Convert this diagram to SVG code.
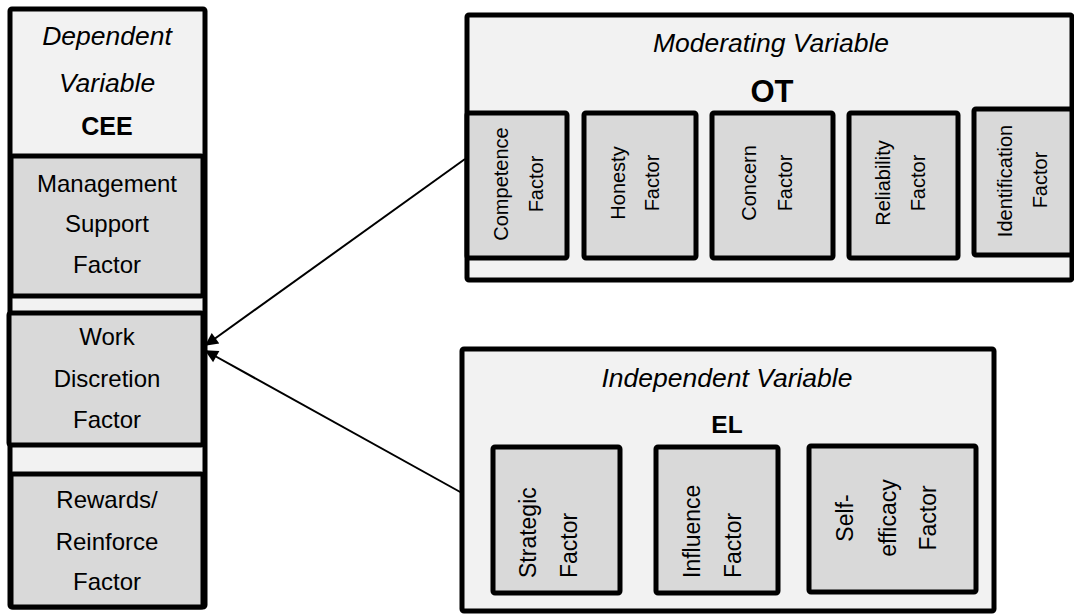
<svg xmlns="http://www.w3.org/2000/svg" width="1074" height="614" viewBox="0 0 1074 614">
  <defs>
    <style>
      .outer { fill: #f2f2f2; stroke: #000; stroke-width: 5; }
      .inner { fill: #d9d9d9; stroke: #000; stroke-width: 5; }
      text { font-family: "Liberation Sans", Arial, sans-serif; fill: #000; }
      .lbl { font-size: 24px; text-anchor: middle; }
      .ital { font-size: 26.5px; font-style: italic; text-anchor: middle; }
      .bold { font-weight: bold; text-anchor: middle; }
      .cee { font-size: 25px; }
      .ot { font-size: 31px; }
      .el { font-size: 24.5px; }
      .rot { font-size: 20px; text-anchor: middle; dominant-baseline: central; }
      .rotL { font-size: 23px; dominant-baseline: central; }
      .conn { stroke: #000; stroke-width: 2; fill: none; }
    </style>
    <marker id="arrow" viewBox="0 0 10 10" refX="9" refY="5" markerWidth="15" markerHeight="13" markerUnits="userSpaceOnUse" orient="auto">
      <path d="M0,0 L10,5 L0,10 z" fill="#000"/>
    </marker>
  </defs>

  <!-- Dependent variable column -->
  <g id="cee">
    <rect class="outer" x="10" y="9" width="195" height="598" rx="2"/>
    <text class="ital" x="107" y="45">Dependent</text>
    <text class="ital" x="107" y="92">Variable</text>
    <text class="bold cee" x="107" y="135">CEE</text>
  </g>
  <g id="management-support">
    <rect class="inner" x="11" y="156" width="192" height="140" rx="2"/>
    <text class="lbl" x="107" y="192">Management</text>
    <text class="lbl" x="107" y="232">Support</text>
    <text class="lbl" x="107" y="273">Factor</text>
  </g>
  <g id="work-discretion">
    <rect class="inner" x="9" y="313" width="194" height="132" rx="2"/>
    <text class="lbl" x="107" y="345">Work</text>
    <text class="lbl" x="107" y="387">Discretion</text>
    <text class="lbl" x="107" y="428">Factor</text>
  </g>
  <g id="rewards-reinforce">
    <rect class="inner" x="11" y="474" width="192" height="133" rx="2"/>
    <text class="lbl" x="107" y="508">Rewards/</text>
    <text class="lbl" x="107" y="550">Reinforce</text>
    <text class="lbl" x="107" y="590">Factor</text>
  </g>

  <!-- Moderating variable -->
  <g id="ot">
    <rect class="outer" x="467" y="15" width="605" height="265" rx="2"/>
    <text class="ital" x="771" y="52">Moderating Variable</text>
    <text class="bold ot" x="772" y="102">OT</text>
  </g>
  <g id="competence">
    <rect class="inner" x="467" y="113" width="100" height="145" rx="2"/>
    <text class="rot" transform="translate(501,184) rotate(-90)">Competence</text>
    <text class="rot" transform="translate(536,184) rotate(-90)">Factor</text>
  </g>
  <g id="honesty">
    <rect class="inner" x="584" y="113" width="112" height="145" rx="2"/>
    <text class="rot" transform="translate(618,183) rotate(-90)">Honesty</text>
    <text class="rot" transform="translate(652,183) rotate(-90)">Factor</text>
  </g>
  <g id="concern">
    <rect class="inner" x="712" y="113" width="121" height="145" rx="2"/>
    <text class="rot" transform="translate(749,183) rotate(-90)">Concern</text>
    <text class="rot" transform="translate(785,183) rotate(-90)">Factor</text>
  </g>
  <g id="reliability">
    <rect class="inner" x="849" y="113" width="109" height="145" rx="2"/>
    <text class="rot" transform="translate(883,183) rotate(-90)">Reliability</text>
    <text class="rot" transform="translate(918,183) rotate(-90)">Factor</text>
  </g>
  <g id="identification">
    <rect class="inner" x="974" y="109" width="98" height="146" rx="2"/>
    <text class="rot" transform="translate(1005,181) rotate(-90)">Identification</text>
    <text class="rot" transform="translate(1040,180) rotate(-90)">Factor</text>
  </g>

  <!-- Independent variable -->
  <g id="el">
    <rect class="outer" x="462" y="349" width="532" height="262" rx="2"/>
    <text class="ital" x="727" y="387">Independent Variable</text>
    <text class="bold el" x="727" y="433">EL</text>
  </g>
  <g id="strategic">
    <rect class="inner" x="493" y="447" width="127" height="146" rx="2"/>
    <text class="rotL" transform="translate(528,578) rotate(-90)">Strategic</text>
    <text class="rotL" transform="translate(569,578) rotate(-90)">Factor</text>
  </g>
  <g id="influence">
    <rect class="inner" x="656" y="447" width="122" height="146" rx="2"/>
    <text class="rotL" transform="translate(692,578) rotate(-90)">Influence</text>
    <text class="rotL" transform="translate(733,578) rotate(-90)">Factor</text>
  </g>
  <g id="self-efficacy">
    <rect class="inner" x="809" y="446" width="167" height="146" rx="2"/>
    <text class="rotL" text-anchor="middle" transform="translate(845,518) rotate(-90)">Self-</text>
    <text class="rotL" text-anchor="middle" transform="translate(888,518) rotate(-90)">efficacy</text>
    <text class="rotL" text-anchor="middle" transform="translate(928,518) rotate(-90)">Factor</text>
  </g>

  <!-- Connectors -->
  <g id="connectors">
    <line class="conn" x1="465" y1="159" x2="206" y2="345" marker-end="url(#arrow)"/>
    <line class="conn" x1="462" y1="493" x2="206" y2="351" marker-end="url(#arrow)"/>
  </g>
</svg>
